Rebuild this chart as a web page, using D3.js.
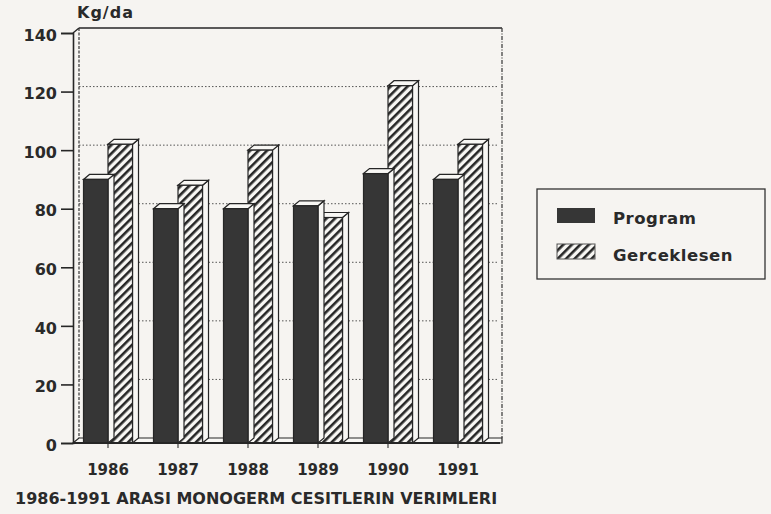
<!DOCTYPE html>
<html>
<head>
<meta charset="utf-8">
<script src="https://cdn.jsdelivr.net/npm/d3@7"></script>
<style>
  body { margin: 0; background: #f6f4f1; }
  svg { display: block; }
  text { font-family: "DejaVu Sans", Verdana, sans-serif; font-weight: bold; fill: #2a2a2a; }
</style>
</head>
<body>
<script>
// data
var years = ['1986', '1987', '1988', '1989', '1990', '1991'];
var program = [90, 80, 80, 81, 92, 90];
var gerceklesen = [102, 88, 100, 77, 122, 102];
var series = ['Program', 'Gerceklesen'];
var yTicks = [0, 20, 40, 60, 80, 100, 120, 140];

var W = 771, H = 514;
var dx = 6, dy = -5;   // 3d depth
var ink = '#262626';
var font = '"DejaVu Sans", Verdana, sans-serif';

var svg = d3.select('body').append('svg')
    .attr('width', W)
    .attr('height', H);

// hatch pattern
var defs = svg.append('defs');
var pat = defs.append('pattern')
    .attr('id', 'hatch')
    .attr('patternUnits', 'userSpaceOnUse')
    .attr('width', 6)
    .attr('height', 6)
    .attr('patternTransform', 'rotate(-45)');
pat.append('rect').attr('width', 6).attr('height', 6).attr('fill', '#f8f7f4');
pat.append('rect').attr('width', 6).attr('height', 2.6).attr('fill', ink);

var x = d3.scaleBand()
    .domain(years)
    .range([73, 493])
    .paddingInner(0.3)
    .paddingOuter(0.15);

var x1 = d3.scaleBand()
    .domain(series)
    .range([0, x.bandwidth()]);

var y = d3.scaleLinear()
    .domain([0, 140])
    .range([443, 33]);

// back wall
var wall = svg.append('g');
yTicks.slice(1, -1).forEach(function (v) {
    wall.append('line')
        .attr('x1', 73 + dx).attr('x2', 493 + dx)
        .attr('y1', y(v) + dy).attr('y2', y(v) + dy)
        .attr('stroke', '#555')
        .attr('stroke-width', 1)
        .attr('stroke-dasharray', '1.5,2');
});
wall.append('line')
    .attr('x1', 73 + dx).attr('x2', 493 + dx + 3)
    .attr('y1', y(140) + dy).attr('y2', y(140) + dy)
    .attr('stroke', ink).attr('stroke-width', 1.6);
wall.append('line')
    .attr('x1', 73 + dx).attr('x2', 73 + dx)
    .attr('y1', y(140) + dy).attr('y2', y(0) + dy)
    .attr('stroke', '#444').attr('stroke-width', 1.3)
    .attr('stroke-dasharray', '3,1.5');
wall.append('line')
    .attr('x1', 493 + dx + 3).attr('x2', 493 + dx + 3)
    .attr('y1', y(140) + dy).attr('y2', y(0) + dy)
    .attr('stroke', '#444').attr('stroke-width', 1.3)
    .attr('stroke-dasharray', '4,1.5,1,1.5');
wall.append('line')
    .attr('x1', 73).attr('x2', 73 + dx)
    .attr('y1', y(140)).attr('y2', y(140) + dy)
    .attr('stroke', ink).attr('stroke-width', 1.4);

// floor
svg.append('path')
    .attr('d', 'M73,' + y(0) + 'L' + (493 + dx + 3) + ',' + y(0) +
        'L' + (493 + dx + 3) + ',' + (y(0) + dy) + 'L' + (73 + dx) + ',' + (y(0) + dy) + 'Z')
    .attr('fill', '#f8f7f4')
    .attr('stroke', ink)
    .attr('stroke-width', 1.2);

// 3d bars
function bar3d(g, x0, w, v, fill) {
    var top = y(v), bot = y(0);
    // side
    g.append('path')
        .attr('d', 'M' + (x0 + w) + ',' + top + 'l' + dx + ',' + dy + 'L' + (x0 + w + dx) + ',' + (bot + dy) +
            'L' + (x0 + w) + ',' + bot + 'Z')
        .attr('fill', '#f8f7f4').attr('stroke', ink).attr('stroke-width', 1.2);
    // top
    g.append('path')
        .attr('d', 'M' + x0 + ',' + top + 'l' + dx + ',' + dy + 'h' + w + 'l' + (-dx) + ',' + (-dy) + 'Z')
        .attr('fill', '#f8f7f4').attr('stroke', ink).attr('stroke-width', 1.2);
    // front
    g.append('rect')
        .attr('x', x0).attr('y', top)
        .attr('width', w).attr('height', bot - top)
        .attr('fill', fill)
        .attr('stroke', ink).attr('stroke-width', 1.2);
}

var bars = svg.append('g');
years.forEach(function (yr, i) {
    var g = bars.append('g');
    bar3d(g, x(yr) + x1('Gerceklesen'), x1.bandwidth(), gerceklesen[i], 'url(#hatch)');
    bar3d(g, x(yr) + x1('Program'), x1.bandwidth(), program[i], '#363636');
});

// y axis
var yAxis = d3.axisLeft(y).tickValues(yTicks).tickSize(12).tickPadding(4);
var ya = svg.append('g')
    .attr('transform', 'translate(73,0)')
    .call(yAxis);
ya.select('.domain').attr('stroke', ink).attr('stroke-width', 1.6);
ya.selectAll('.tick line').attr('stroke', ink).attr('stroke-width', 1.6);
ya.selectAll('.tick text')
    .attr('dy', '0.45em')
    .style('font-size', '16px')
    .style('font-family', font)
    .style('font-weight', 'bold')
    .attr('fill', '#2a2a2a');

// x axis
var xAxis = d3.axisBottom(x).tickSize(5).tickPadding(16);
var xa = svg.append('g')
    .attr('transform', 'translate(0,' + y(0) + ')')
    .call(xAxis);
xa.select('.domain').remove();
xa.selectAll('.tick line').attr('stroke', '#444').attr('stroke-width', 1.2);
xa.selectAll('.tick text')
    .style('font-size', '15px')
    .style('font-family', font)
    .style('font-weight', 'bold')
    .attr('fill', '#2a2a2a');
svg.append('line')
    .attr('x1', 73).attr('x2', 500)
    .attr('y1', y(0)).attr('y2', y(0))
    .attr('stroke', ink).attr('stroke-width', 2);

// unit label
svg.append('text')
    .attr('x', 77).attr('y', 18)
    .style('font-size', '16px')
    .style('letter-spacing', '1px')
    .text('Kg/da');

// title
svg.append('text')
    .attr('x', 15).attr('y', 504)
    .style('font-size', '16px')
    .text('1986-1991 ARASI MONOGERM CESITLERIN VERIMLERI');

// legend
var lg = svg.append('g');
lg.append('rect')
    .attr('x', 537).attr('y', 189)
    .attr('width', 228).attr('height', 90)
    .attr('fill', 'none')
    .attr('stroke', '#333').attr('stroke-width', 1.3);
var legFills = ['#363636', 'url(#hatch)'];
series.forEach(function (s, i) {
    lg.append('rect')
        .attr('x', 557).attr('y', 208 + i * 36)
        .attr('width', 38).attr('height', 15)
        .attr('fill', legFills[i])
        .attr('stroke', i ? '#555' : 'none');
    lg.append('text')
        .attr('x', 613).attr('y', 224 + i * 37)
        .style('font-size', '16.5px')
        .style('letter-spacing', '0.5px')
        .text(i ? 'Gerceklesen' : 'Program');
});
</script>
</body>
</html>
